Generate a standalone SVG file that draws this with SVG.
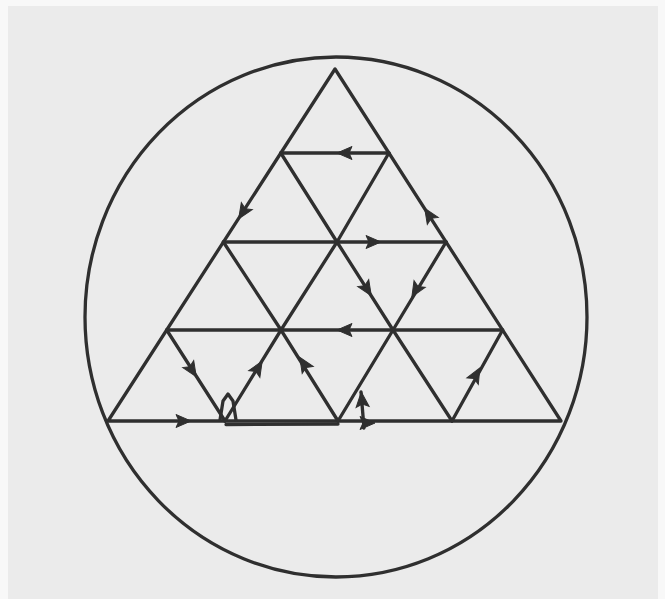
<svg xmlns="http://www.w3.org/2000/svg" width="665" height="599" viewBox="0 0 665 599">
<defs>
<style>
.ln{fill:none;stroke:#2f2f2f;stroke-width:3.3;stroke-linejoin:round;stroke-linecap:round}
.ah{fill:#2f2f2f;stroke:#2f2f2f;stroke-width:1}
</style>
<path id="arr" d="M8,0 L-7,-6.5 L-4,0 L-7,6.5 Z"/>
</defs>
<rect x="0" y="0" width="665" height="599" fill="#f8f8f8"/>
<rect x="8" y="6" width="650" height="593" fill="#ebebeb"/>
<g id="circle">
<ellipse class="ln" cx="336" cy="317" rx="251" ry="260"/>
</g>
<g id="grid">
<polygon class="ln" points="335,69 108,421 561,421"/>
<line class="ln" x1="280.8" y1="153" x2="388.9" y2="153"/>
<line class="ln" x1="223.4" y1="242" x2="446.1" y2="242"/>
<line class="ln" x1="166.7" y1="330" x2="502.6" y2="330"/>
<polyline class="ln" points="280.8,153 337,242 393,330 452,421"/>
<polyline class="ln" points="223.4,242 281,330 338,421"/>
<polyline class="ln" points="166.7,330 225,421"/>
<polyline class="ln" points="388.9,153 337,242 281,330 225,421"/>
<polyline class="ln" points="446.1,242 393,330 338,421"/>
<polyline class="ln" points="502.6,330 452,421"/>
<line class="ln" x1="226" y1="424.5" x2="338" y2="424"/>
<polyline class="ln" points="364,428 361,392"/>
<path class="ln" d="M220,420 L223,401 L228,394 L233,401 L236,420"/>
</g>
<g id="arrows" class="ah">
<use href="#arr" transform="translate(345,153) rotate(180)"/>
<use href="#arr" transform="translate(243,212) rotate(122.8)"/>
<use href="#arr" transform="translate(429,215) rotate(-122.7)"/>
<use href="#arr" transform="translate(373,242)"/>
<use href="#arr" transform="translate(367,289) rotate(57.5)"/>
<use href="#arr" transform="translate(416,290) rotate(121)"/>
<use href="#arr" transform="translate(345,330) rotate(180)"/>
<use href="#arr" transform="translate(192,370) rotate(57.4)"/>
<use href="#arr" transform="translate(258,368) rotate(-58.4)"/>
<use href="#arr" transform="translate(304,364) rotate(-122)"/>
<use href="#arr" transform="translate(476,375) rotate(-61)"/>
<use href="#arr" transform="translate(362,400) rotate(-95)"/>
<use href="#arr" transform="translate(183,421)"/>
<use href="#arr" transform="translate(367,423)"/>
</g>
</svg>
